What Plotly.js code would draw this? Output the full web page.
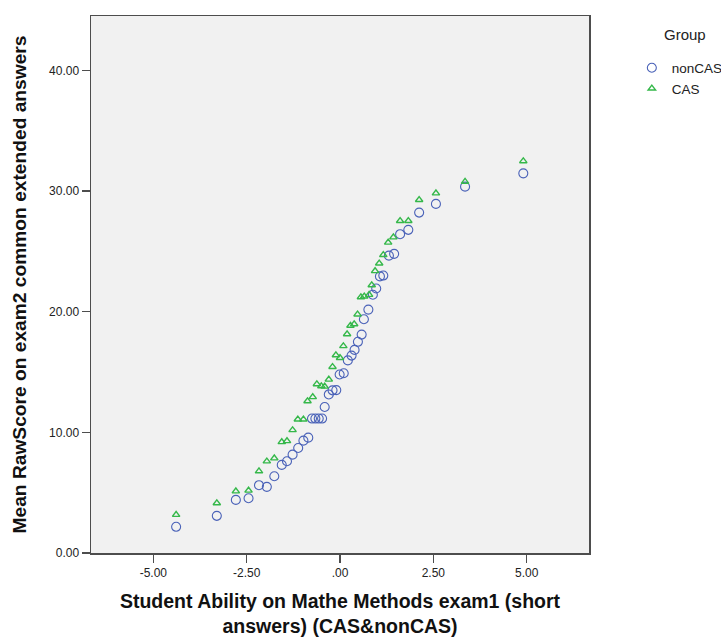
<!DOCTYPE html>
<html>
<head>
<meta charset="utf-8">
<script src="https://cdn.plot.ly/plotly-3.0.1.min.js"></script>
<style>html,body{margin:0;padding:0;background:#fff;}#chart{width:721px;height:637px;}</style>
</head>
<body>
<div id="chart"></div>
<script>
// nonCAS group (circles)
const nonCasX = [-4.39,-3.30,-2.79,-2.45,-2.17,-1.96,-1.76,-1.56,-1.42,-1.27,-1.12,-0.98,-0.85,-0.75,-0.66,-0.57,-0.48,-0.41,-0.30,-0.20,-0.10,-0.01,0.10,0.21,0.31,0.39,0.48,0.58,0.64,0.76,0.88,0.97,1.07,1.16,1.31,1.45,1.61,1.83,2.12,2.57,3.35,4.91];
const nonCasY = [2.17,3.08,4.40,4.54,5.62,5.48,6.36,7.30,7.60,8.15,8.70,9.31,9.56,11.14,11.14,11.14,11.14,12.10,13.14,13.48,13.50,14.79,14.90,15.96,16.36,16.83,17.50,18.10,19.37,20.17,21.40,21.92,22.92,22.99,24.64,24.79,26.42,26.78,28.21,28.93,30.36,31.46];
// CAS group (triangles)
const casX = [-4.39,-3.30,-2.79,-2.45,-2.17,-1.96,-1.76,-1.56,-1.42,-1.27,-1.13,-0.98,-0.87,-0.73,-0.62,-0.50,-0.41,-0.30,-0.20,-0.11,0.00,0.09,0.19,0.28,0.38,0.47,0.56,0.65,0.78,0.85,0.94,1.05,1.16,1.29,1.43,1.61,1.83,2.12,2.57,3.35,4.91];
const casY = [3.17,4.13,5.12,5.18,6.78,7.60,7.85,9.20,9.28,10.19,11.07,11.07,12.59,12.93,14.00,13.83,13.80,14.38,15.43,16.40,16.17,17.15,18.14,18.84,18.97,19.78,21.20,21.27,21.40,22.20,23.37,24.00,24.70,25.73,26.17,27.52,27.52,29.26,29.81,30.77,32.48];
// tick labels
const xTickVals = [-5, -2.5, 0, 2.5, 5];
const xTickText = ["-5.00", "-2.50", ".00", "2.50", "5.00"];
const yTickVals = [0, 10, 20, 30, 40];
const yTickText = ["0.00", "10.00", "20.00", "30.00", "40.00"];
const seriesNames = ["nonCAS", "CAS"];
const legendTitle = "Group";

const FONT = "Liberation Sans, Arial, sans-serif";

const traces = [
  {
    x: nonCasX, y: nonCasY, name: seriesNames[0], type: "scatter", mode: "markers",
    marker: {symbol: "circle-open", size: 9, color: "#4a62b8", line: {width: 1.1, color: "#4a62b8"}}
  },
  {
    x: casX, y: casY, name: seriesNames[1], type: "scatter", mode: "markers",
    marker: {symbol: "triangle-up-open", size: 6.5, color: "#35b84a", line: {width: 1.4, color: "#35b84a"}}
  }
];

const axisCommon = {
  showgrid: false, zeroline: false, showline: true, mirror: true,
  linecolor: "#4d4d4d", linewidth: 1.5,
  ticks: "outside", ticklen: 8, tickwidth: 1.5, tickcolor: "#4d4d4d",
  tickfont: {family: FONT, size: 12, color: "#222"}
};

const layout = {
  width: 721, height: 637,
  margin: {l: 91, r: 132, t: 16, b: 84, pad: 0, autoexpand: false},
  paper_bgcolor: "#ffffff",
  plot_bgcolor: "#f1f1f1",
  font: {family: FONT, color: "#222"},
  xaxis: Object.assign({}, axisCommon, {
    range: [-6.67, 6.67], tickmode: "array", tickvals: xTickVals, ticktext: xTickText,
    title: {text: "Student Ability on Mathe Methods exam1 (short<br>answers) (CAS&amp;nonCAS)",
            font: {family: FONT, size: 19.5, color: "#111", weight: "bold"}, standoff: 17}
  }),
  yaxis: Object.assign({}, axisCommon, {
    range: [0, 44.5], tickmode: "array", tickvals: yTickVals, ticktext: yTickText,
    title: {text: "Mean RawScore on exam2 common extended answers",
            font: {family: FONT, size: 19.2, color: "#111", weight: "bold"}, standoff: 17}
  }),
  showlegend: true,
  legend: {
    x: 1.086, xanchor: "left", y: 0.932, yanchor: "top",
    bgcolor: "rgba(0,0,0,0)", borderwidth: 0,
    font: {family: FONT, size: 13.5, color: "#222"},
    itemwidth: 30, tracegroupgap: 0
  },
  annotations: [
    {text: legendTitle, xref: "paper", yref: "paper", x: 1.193, y: 0.966,
     xanchor: "center", yanchor: "middle", showarrow: false,
     font: {family: FONT, size: 15, color: "#222"}}
  ]
};

Plotly.newPlot("chart", traces, layout, {displayModeBar: false, staticPlot: true});
</script>
</body>
</html>
